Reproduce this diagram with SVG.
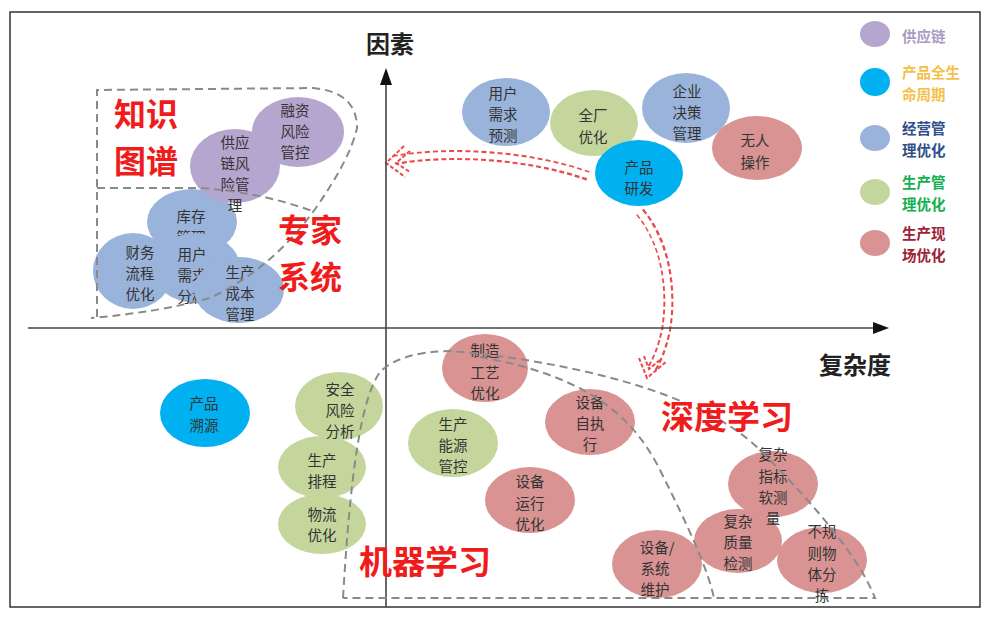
<svg xmlns="http://www.w3.org/2000/svg" width="998" height="617" viewBox="0 0 998 617">
<defs>
<style>
.t{font-family:"Noto Sans CJK SC","Noto Sans",sans-serif;font-size:14.5px;fill:#333;text-anchor:middle;dominant-baseline:central}
.big{font-family:"Noto Sans CJK SC",sans-serif;font-size:33px;font-weight:bold;fill:#f01c1c;text-anchor:middle;dominant-baseline:central}
.big2{font-size:32px}
.ax{font-family:"Noto Sans CJK SC",sans-serif;font-size:24px;font-weight:bold;fill:#222;text-anchor:middle;dominant-baseline:central}
.lg{font-family:"Noto Sans CJK SC",sans-serif;font-size:14.5px;font-weight:bold;dominant-baseline:central}
.pu{fill:#b5a6cf}.bl{fill:#9ab3da}.gr{fill:#c4d69c}.rd{fill:#d99393}.cy{fill:#00b0f0}
.dash{fill:none;stroke:#8a8a8a;stroke-width:2;stroke-dasharray:8 5}
.rdo{fill:none;stroke:#ec4a4a;stroke-width:10;stroke-dasharray:5 3}
.rdi{fill:none;stroke:#fff;stroke-width:6}
.chev{fill:none;stroke:#ec4a4a;stroke-width:2;stroke-dasharray:4 2}
</style>
</defs>
<rect x="10" y="12" width="970" height="595" fill="#fff" stroke="#333" stroke-width="1.5"/>

<g id="connectors">
<path class="rdo" d="M588,176 C530,155 450,150 395,160"/>
<path class="rdi" d="M590,176 C530,155 450,150 393,160"/>
<path class="chev" d="M404,146 L386,163 L405,177"/>
<path class="chev" d="M410,151 L396,163 L410,172"/>
<path class="rdo" d="M640,212 C668,245 672,295 666,330 C662,350 656,362 651,370"/>
<path class="rdi" d="M638,210 C668,245 672,295 666,330 C662,350 656,362 650,372"/>
<path class="chev" d="M639,358 L647,378 L666,362"/>
<path class="chev" d="M644,356 L649,369 L661,359"/>
</g>

<g id="axes">
<line x1="386" y1="607" x2="386" y2="80" stroke="#444" stroke-width="1.6"/>
<polygon points="386,68 380,85 392,85" fill="#111"/>
<line x1="28" y1="328" x2="876" y2="328" stroke="#444" stroke-width="1.6"/>
<polygon points="889,328 873,322 873,334" fill="#111"/>
<text class="ax" x="390" y="42">因素</text>
<text class="ax" x="855" y="363">复杂度</text>
</g>

<g id="n-kucun"><ellipse class="bl" cx="192" cy="222" rx="45" ry="33"/><text class="t" x="191" y="215">库存<tspan x="191" dy="21">管理</tspan></text></g>
<g id="n-caiwu"><ellipse class="bl" cx="133" cy="271" rx="40" ry="38"/><text class="t" x="140" y="251">财务<tspan x="140" dy="21">流程</tspan><tspan x="140" dy="21">优化</tspan></text></g>
<g id="n-yonghu"><ellipse class="bl" cx="196" cy="268" rx="44" ry="35"/><text class="t" x="192" y="253">用户<tspan x="192" dy="21">需求</tspan><tspan x="192" dy="21">分析</tspan></text></g>
<g id="n-chengben"><ellipse class="bl" cx="239" cy="290" rx="45" ry="33"/><text class="t" x="240" y="271">生产<tspan x="240" dy="21">成本</tspan><tspan x="240" dy="21">管理</tspan></text></g>
<g id="n-rongzi"><ellipse class="pu" cx="298" cy="132" rx="46" ry="35"/><text class="t" x="295" y="109">融资<tspan x="295" dy="21">风险</tspan><tspan x="295" dy="21">管控</tspan></text></g>
<g id="n-gongying"><ellipse class="pu" cx="235" cy="166" rx="45" ry="37"/><text class="t" x="235" y="141">供应<tspan x="235" dy="21">链风</tspan><tspan x="235" dy="21">险管</tspan><tspan x="235" dy="21">理</tspan></text></g>

<g id="n-xuqiu"><ellipse class="bl" cx="506" cy="112" rx="44" ry="34"/><text class="t" x="503" y="92">用户<tspan x="503" dy="21">需求</tspan><tspan x="503" dy="21">预测</tspan></text></g>
<g id="n-quanchang"><ellipse class="gr" cx="594" cy="123" rx="44" ry="33"/><text class="t" x="593" y="114.5">全厂<tspan x="593" dy="21">优化</tspan></text></g>
<g id="n-qiye"><ellipse class="bl" cx="686" cy="108" rx="44" ry="35"/><text class="t" x="687" y="90">企业<tspan x="687" dy="21">决策</tspan><tspan x="687" dy="21">管理</tspan></text></g>
<g id="n-wuren"><ellipse class="rd" cx="757" cy="148" rx="45" ry="32"/><text class="t" x="755" y="139.5">无人<tspan x="755" dy="21">操作</tspan></text></g>
<g id="n-yanfa"><ellipse class="cy" cx="639" cy="173" rx="44" ry="33"/><text class="t" x="639" y="166">产品<tspan x="639" dy="21">研发</tspan></text></g>

<g id="n-suyuan"><ellipse class="cy" cx="205" cy="413" rx="45" ry="34"/><text class="t" x="204" y="402.5">产品<tspan x="204" dy="21">溯源</tspan></text></g>
<g id="n-wuliu"><ellipse class="gr" cx="322" cy="524" rx="44" ry="30"/><text class="t" x="322" y="513">物流<tspan x="322" dy="21">优化</tspan></text></g>
<g id="n-paicheng"><ellipse class="gr" cx="322" cy="467" rx="44" ry="31"/><text class="t" x="322" y="459">生产<tspan x="322" dy="21">排程</tspan></text></g>
<g id="n-anquan"><ellipse class="gr" cx="339" cy="406" rx="44" ry="34"/><text class="t" x="340" y="388">安全<tspan x="340" dy="21">风险</tspan><tspan x="340" dy="21">分析</tspan></text></g>
<g id="n-nengyuan"><ellipse class="gr" cx="453" cy="443" rx="45" ry="34"/><text class="t" x="453" y="423">生产<tspan x="453" dy="21">能源</tspan><tspan x="453" dy="21">管控</tspan></text></g>

<g id="n-zhizao"><ellipse class="rd" cx="485" cy="368" rx="43" ry="34"/><text class="t" x="485" y="349.5">制造<tspan x="485" dy="21">工艺</tspan><tspan x="485" dy="21">优化</tspan></text></g>
<g id="n-zizhixing"><ellipse class="rd" cx="590" cy="422" rx="45" ry="33"/><text class="t" x="590" y="401">设备<tspan x="590" dy="21">自执</tspan><tspan x="590" dy="21">行</tspan></text></g>
<g id="n-yunxing"><ellipse class="rd" cx="530" cy="500" rx="45" ry="33"/><text class="t" x="530" y="480.5">设备<tspan x="530" dy="21">运行</tspan><tspan x="530" dy="21">优化</tspan></text></g>
<g id="n-weihu"><ellipse class="rd" cx="657" cy="564" rx="45" ry="34"/><text class="t" x="657" y="546">设备/<tspan x="655" dy="21">系统</tspan><tspan x="655" dy="21">维护</tspan></text></g>
<g id="n-zhiliang"><ellipse class="rd" cx="738" cy="541" rx="44" ry="32"/><text class="t" x="738" y="520">复杂<tspan x="738" dy="21">质量</tspan><tspan x="738" dy="21">检测</tspan></text></g>
<g id="n-zhibiao"><ellipse class="rd" cx="773" cy="484" rx="45" ry="33"/><text class="t" x="773" y="453.5">复杂<tspan x="773" dy="21">指标</tspan><tspan x="773" dy="21">软测</tspan><tspan x="773" dy="21">量</tspan></text></g>
<g id="n-fenjian"><ellipse class="rd" cx="822" cy="560" rx="45" ry="33"/><text class="t" x="822" y="530.5">不规<tspan x="822" dy="21">则物</tspan><tspan x="822" dy="21">体分</tspan><tspan x="822" dy="21">拣</tspan></text></g>

<g id="regions">
<path class="dash" d="M97,317 L97,90 L313,88 Q357,92 357,128 Q350,160 313,212 Q270,270 210,298 Q160,312 91,318"/>
<path class="dash" d="M97,188 L200,188 Q260,192 312,211"/>
<path class="dash" d="M343,598 C350,480 360,400 380,372 Q400,352 450,351 C560,360 700,390 760,450 C820,510 860,560 875,598 L343,598"/>
<path class="dash" d="M480,357 C580,375 630,410 660,470 C690,530 708,570 714,598"/>
</g>

<g id="labels">
<text class="big big2" x="146" y="112">知识<tspan x="146" dy="47">图谱</tspan></text>
<text class="big big2" x="310" y="228">专家<tspan x="310" dy="47">系统</tspan></text>
<text class="big" x="727" y="415">深度学习</text>
<text class="big" x="425" y="560">机器学习</text>
</g>

<g id="legend">
<ellipse class="pu" cx="875" cy="34" rx="15" ry="13"/><text class="lg" x="902" y="35" fill="#a99cc4">供应链</text>
<ellipse class="cy" cx="875" cy="82" rx="15" ry="14"/><text class="lg" x="902" y="71.5" fill="#f5c04a">产品全生<tspan x="902" dy="21">命周期</tspan></text>
<ellipse class="bl" cx="875" cy="138" rx="15" ry="13"/><text class="lg" x="902" y="127.5" fill="#2f4f8a">经营管<tspan x="902" dy="21">理优化</tspan></text>
<ellipse class="gr" cx="875" cy="192" rx="15" ry="13"/><text class="lg" x="902" y="181.5" fill="#12b050">生产管<tspan x="902" dy="21">理优化</tspan></text>
<ellipse class="rd" cx="875" cy="243" rx="15" ry="13"/><text class="lg" x="902" y="232.5" fill="#9b2335">生产现<tspan x="902" dy="21">场优化</tspan></text>
</g>
</svg>
